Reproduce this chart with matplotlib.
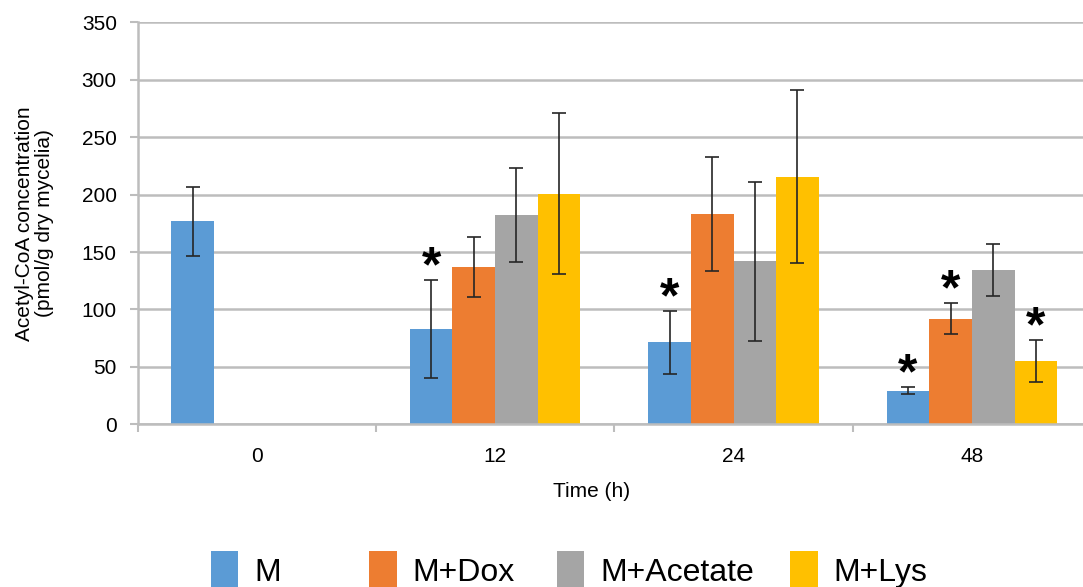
import numpy as np
import matplotlib
matplotlib.use("Agg")
import matplotlib.pyplot as plt
from matplotlib.patches import Patch

plt.rcParams['font.family'] = ['Liberation Sans', 'DejaVu Sans']

times = ['0', '12', '24', '48']
groups = ['M', 'M+Dox', 'M+Acetate', 'M+Lys']
colors = ['#5B9BD5', '#ED7D31', '#A5A5A5', '#FFC000']

m_mean = [176.7, 82.7, 71.4, 29.3]
m_sd = [30.2, 42.7, 27.3, 3.0]
dox_mean = [np.nan, 136.7, 183.1, 92.0]
dox_sd = [np.nan, 26.3, 49.7, 13.8]
ace_mean = [np.nan, 182.2, 141.9, 134.6]
ace_sd = [np.nan, 41.0, 69.0, 22.5]
lys_mean = [np.nan, 200.8, 215.6, 55.4]
lys_sd = [np.nan, 70.3, 75.4, 18.3]

# significance marks (True = asterisk above bar)
m_sig = [False, True, True, True]
dox_sig = [False, False, False, True]
ace_sig = [False, False, False, False]
lys_sig = [False, False, False, True]

means = [m_mean, dox_mean, ace_mean, lys_mean]
sds = [m_sd, dox_sd, ace_sd, lys_sd]
sigs = [m_sig, dox_sig, ace_sig, lys_sig]

fig = plt.figure(figsize=(10.83, 5.87), dpi=100)
ax = fig.add_axes([0.1271, 0.2772, 0.8803, 0.6848])

x = np.arange(len(times))
w = 0.179
grid_c = '#BDBDBD'

for i in range(len(groups)):
    xi = x + (i - 1.5) * w
    ax.bar(xi, means[i], width=w, color=colors[i], zorder=2, label=groups[i])
    ax.errorbar(xi, means[i], yerr=sds[i], fmt='none', ecolor='#262626',
                elinewidth=1.2, capsize=5, capthick=1.2, zorder=3)
    for j in range(len(times)):
        if sigs[i][j]:
            top = means[i][j] + sds[i][j]
            ax.annotate('*', (xi[j], top), xytext=(0, -1), textcoords='offset points',
                        ha='center', va='baseline', fontsize=36, fontweight='bold',
                        color='black', zorder=4)

ax.set_xlim(-0.5, 3.5)
ax.set_ylim(0, 350)
ax.set_yticks(np.arange(0, 351, 50))
ax.yaxis.grid(True, color=grid_c, linewidth=1.8, zorder=0)
ax.set_axisbelow(True)

ax.set_xticks(x)
ax.set_xticklabels(times)
ax.set_xticks(np.arange(-0.5, 3.6, 1), minor=True)
ax.tick_params(axis='x', which='major', length=0, pad=16, labelsize=15)
ax.tick_params(axis='x', which='minor', length=6, color=grid_c, width=1.5)
ax.tick_params(axis='y', length=6, color=grid_c, width=1.5, pad=9, labelsize=15)

for s in ['top', 'right']:
    ax.spines[s].set_visible(False)
for s in ['left', 'bottom']:
    ax.spines[s].set_color(grid_c)
    ax.spines[s].set_linewidth(1.8)

ax.set_ylabel('Acetyl-CoA concentration\n(pmol/g dry mycelia)', fontsize=15,
              linespacing=1.05)
ax.yaxis.set_label_coords(-0.088, 0.5)

fig.text(592 / 1083, 1 - 497 / 587, 'Time (h)', ha='center', va='baseline', fontsize=15)

# legend entries placed individually, as in the source figure
patch_x = [210.7, 369.0, 556.7, 790.0]
for i in range(len(groups)):
    h = Patch(facecolor=colors[i], edgecolor='none')
    fig.legend([h], [groups[i]], loc='center left',
               bbox_to_anchor=(patch_x[i] / 1083, 1 - 570 / 587),
               frameon=False, fontsize=23, handlelength=0.87, handleheight=1.5,
               handletextpad=0.5, borderpad=0, borderaxespad=0)

fig.savefig('out.png', dpi=100)
